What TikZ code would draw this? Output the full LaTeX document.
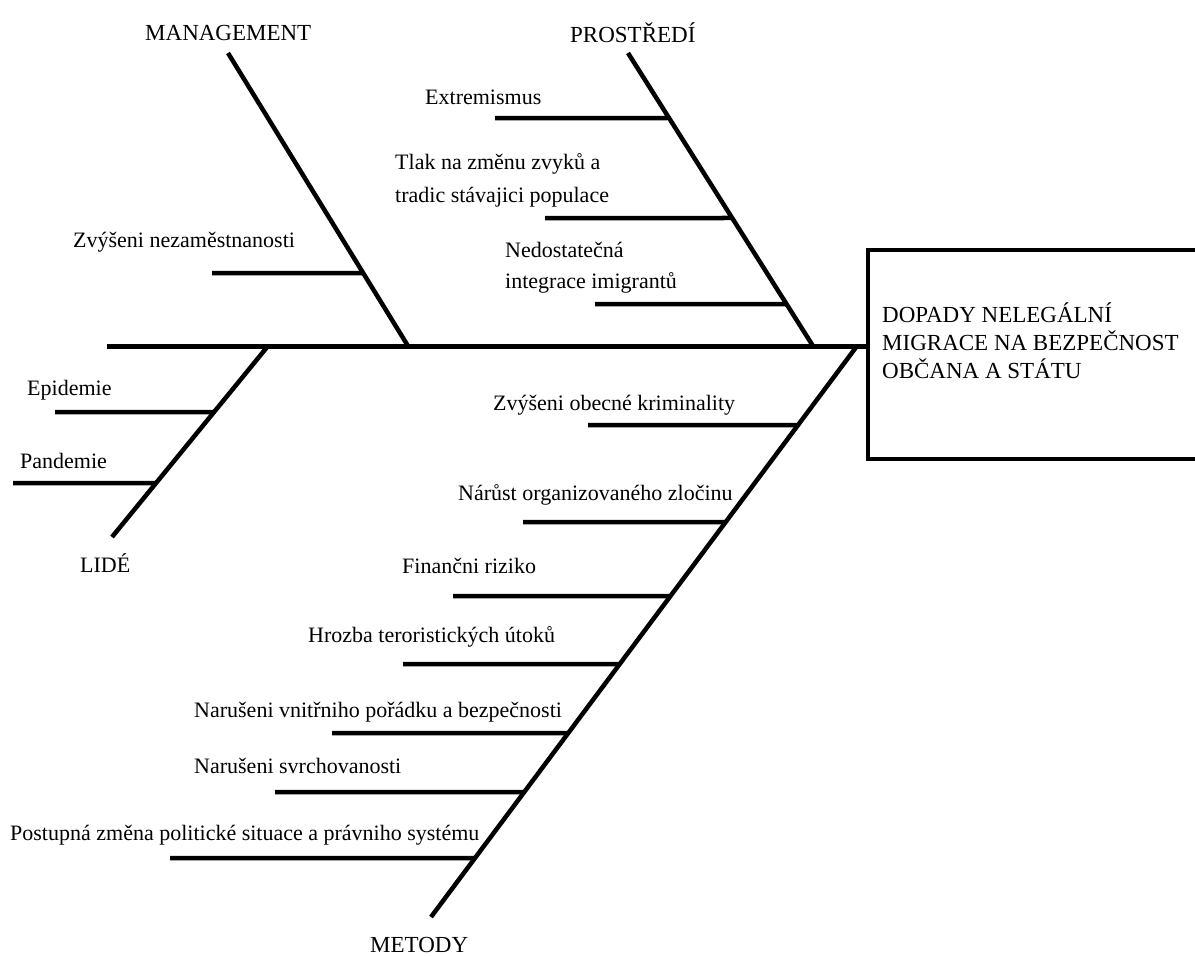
\documentclass[tikz,border=0pt]{standalone}
\usepackage{fontspec}
\setmainfont{Liberation Serif}
\usepackage{tikz}
\usetikzlibrary{calc,positioning}

\begin{document}
\begin{tikzpicture}[x=1pt,y=-1pt,
  bone/.style={black,line width=4.5pt},
  txt/.style={anchor=base west,inner sep=0pt,align=left,font=\fontsize{22}{32}\selectfont},
  caps/.style={txt,font=\fontsize{23}{28}\selectfont}]
%Koordinaten in Pixel, y zeigt nach unten
%Bei mehrzeiligen Knoten liegt base auf der letzten Zeile
  \pgfmathsetmacro{\ySpine}{346}
  \useasboundingbox (0,0) rectangle (1195,956);
%Hauptgraete und Kasten
  \coordinate (tail) at (107,\ySpine);
  \coordinate (boxNW) at (868,250);
  \coordinate (boxSW) at (868,459);
  \draw[bone] (1197,250) -- (boxNW) -- (boxSW) -- (1197,459);
  \draw[bone,line width=5pt] (tail) -- (boxNW |- tail);
  \node[caps] (effect) at (882,378) {DOPADY NELEGÁLNÍ\\MIGRACE NA BEZPEČNOST\\OBČANA A STÁTU};
%Schraege Graeten
  \coordinate (mTop) at (228,53);  \coordinate (mBot) at (408,\ySpine);
  \coordinate (pTop) at (628,53);  \coordinate (pBot) at (813,\ySpine);
  \coordinate (lTop) at (268,\ySpine); \coordinate (lBot) at (112,537);
  \coordinate (eTop) at (857,\ySpine); \coordinate (eBot) at (431,917);
  \draw[bone] (mTop) -- (mBot);
  \draw[bone] (pTop) -- (pBot);
  \draw[bone] (lTop) -- (lBot);
  \draw[bone] (eTop) -- (eBot);
%Nebengraeten: Anfang x, Hoehe y, Anteil auf der Graete
  \foreach \xs/\y [count=\i] in {212/273}{
    \pgfmathsetmacro{\anteil}{(\y-53)/(\ySpine-53)}
    \coordinate (m\i) at (\xs,\y);
    \draw[bone] (m\i) -- ($(mTop)!\anteil!(mBot)$);
  }
  \foreach \xs/\y [count=\i] in {495/118,545/218,595/304}{
    \pgfmathsetmacro{\anteil}{(\y-53)/(\ySpine-53)}
    \coordinate (p\i) at (\xs,\y);
    \draw[bone] (p\i) -- ($(pTop)!\anteil!(pBot)$);
  }
  \foreach \xs/\y [count=\i] in {55/412,13/483}{
    \pgfmathsetmacro{\anteil}{(\y-\ySpine)/(537-\ySpine)}
    \coordinate (l\i) at (\xs,\y);
    \draw[bone] (l\i) -- ($(lTop)!\anteil!(lBot)$);
  }
  \foreach \xs/\y [count=\i] in {588/425,523/522,453/596,403/664,332/733,275/792,170/858}{
    \pgfmathsetmacro{\anteil}{(\y-\ySpine)/(917-\ySpine)}
    \coordinate (e\i) at (\xs,\y);
    \draw[bone] (e\i) -- ($(eTop)!\anteil!(eBot)$);
  }
%Beschriftungen
  \node[caps] (mgmt) at (145,40) {MANAGEMENT};
  \node[caps] (env) at (570,42) {PROSTŘEDÍ};
  \node[txt] (people) at (80,572) {LIDÉ};
  \node[caps] (methods) at (370,952) {METODY};
  \node[txt] (unemploy) at (73,247) {Zvýšeni nezaměstnanosti};
  \node[txt] (extrem) at (425,104) {Extremismus};
  \node[txt,font=\fontsize{22}{33}\selectfont] (custom) at (395,202) {Tlak na změnu zvyků a\\tradic stávajici populace};
  \node[txt,font=\fontsize{22}{31}\selectfont] (integr) at (505,288) {Nedostatečná\\integrace imigrantů};
  \node[txt] (epi) at (27,395) {Epidemie};
  \node[txt] (pan) at (20,468) {Pandemie};
  \node[txt] (crime) at (493,410) {Zvýšeni obecné kriminality};
  \node[txt] (orgcrime) at (458,500) {Nárůst organizovaného zločinu};
  \node[txt] (finance) at (402,573) {Finančni riziko};
  \node[txt] (terror) at (308,642) {Hrozba teroristických útoků};
  \node[txt] (order) at (194,717) {Narušeni vnitřniho pořádku a bezpečnosti};
  \node[txt] (sovereign) at (194,773) {Narušeni svrchovanosti};
  \node[txt] (politics) at (10,840) {Postupná změna politické situace a právniho systému};
\end{tikzpicture}
\end{document}
